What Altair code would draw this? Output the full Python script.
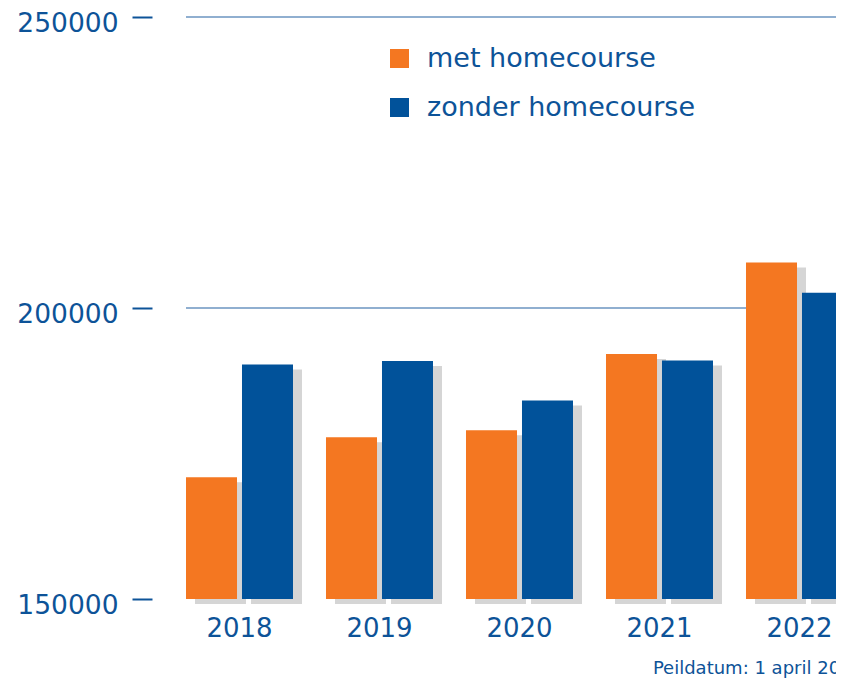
import altair as alt
import pandas as pd

years = ["2018", "2019", "2020", "2021", "2022"]
met = [170900, 177800, 179000, 192100, 207800]
zonder = [190300, 190900, 184100, 191000, 202600]
series = ["met homecourse", "zonder homecourse"]
colors = ["#f47721", "#01529a"]
grid_values = [200000, 250000]
y_ticks = [150000, 200000, 250000]
footnote = "Peildatum: 1 april 2022"

rows = []
for i, yr in enumerate(years):
    rows.append({"jaar": yr, "serie": series[0], "waarde": met[i]})
    rows.append({"jaar": yr, "serie": series[1], "waarde": zonder[i]})
df = pd.DataFrame(rows)
grid_df = pd.DataFrame({"waarde": grid_values})

TEXT = "#0d5398"
FONT = "DejaVu Sans"

x_axis = alt.Axis(title=None, labelAngle=0, ticks=False, domain=False,
                  labelFontSize=26, labelColor=TEXT, labelFont=FONT,
                  labelPadding=16, grid=False)
x = alt.X("jaar:N", sort=years,
          scale=alt.Scale(paddingInner=0.2357, paddingOuter=0, range=[0, 667]),
          axis=x_axis)
x_shadow = alt.X("jaar:N", sort=years,
                 scale=alt.Scale(paddingInner=0.2357, paddingOuter=0, range=[9, 676]),
                 axis=None)
xoff = alt.XOffset("serie:N", sort=series,
                   scale=alt.Scale(domain=series, paddingInner=0.089, paddingOuter=0))
yscale = alt.Scale(domain=[150000, 250000], zero=False, clamp=True)
yenc = alt.Y("waarde:Q", scale=yscale,
             axis=alt.Axis(title=None, values=y_ticks, grid=False, domain=False,
                           offset=34, tickSize=20, tickWidth=2, tickColor=TEXT,
                           labelFontSize=26.5, labelColor=TEXT, labelFont=FONT,
                           labelPadding=14, labelOffset=6, format="d"))

grid = alt.Chart(grid_df).mark_rule(color="#6b95c1", strokeWidth=1.5).encode(
    y=yenc, x=alt.value(0), x2=alt.value(700))

shadow = alt.Chart(df).mark_bar(color="#d5d5d5", yOffset=5, y2Offset=5).encode(
    x=x_shadow, xOffset=xoff, y=yenc)

bars = alt.Chart(df).mark_bar().encode(
    x=x, xOffset=xoff, y=yenc,
    color=alt.Color("serie:N", scale=alt.Scale(domain=series, range=colors),
                    legend=alt.Legend(title=None, orient="none", legendX=200, legendY=28,
                                      symbolType="square", symbolSize=361,
                                      symbolStrokeWidth=0, symbolOpacity=1,
                                      labelFontSize=27, labelFont=FONT, labelColor=TEXT,
                                      labelOffset=14, rowPadding=21, padding=0,
                                      labelLimit=400)))

chart = alt.layer(grid, shadow, bars).resolve_scale(x="independent").properties(
    width=650, height=582,
    padding={"left": 178, "top": 9, "right": 0, "bottom": 85},
    autosize=alt.AutoSizeParams(type="none"),
    title=alt.TitleParams(footnote, orient="bottom", anchor="end", frame="group",
                          fontSize=18, font=FONT, color=TEXT, fontWeight="normal",
                          offset=19, dx=27),
).configure_view(stroke=None)

chart.save("out.html", embed_options={"renderer": "svg", "actions": False})
